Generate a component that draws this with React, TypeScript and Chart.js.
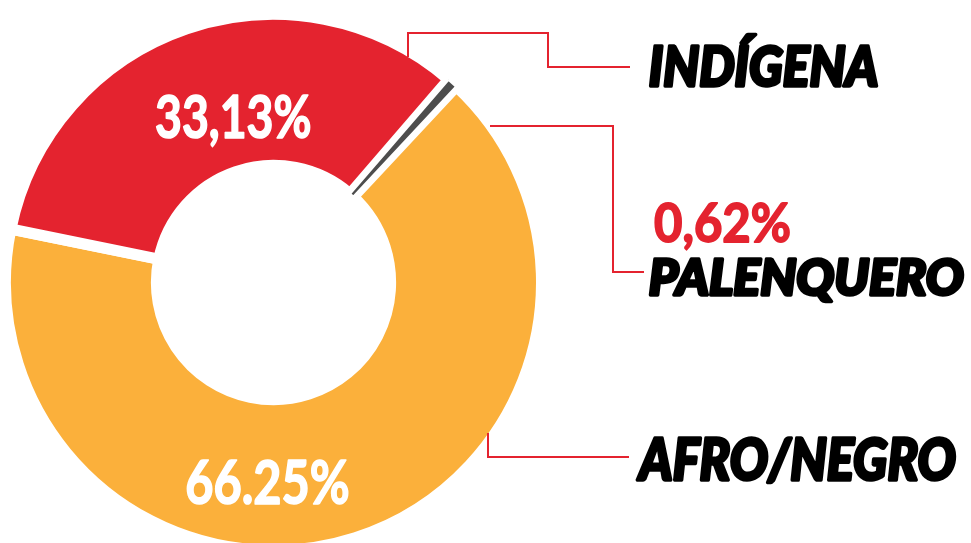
import React, { useEffect, useRef } from "react";
import { Chart, registerables } from "chart.js";

Chart.register(...registerables);

// ---- data (listed clockwise starting from the AFRO/NEGRO slice) ----
const categories = ["AFRO/NEGRO", "INDÍGENA", "PALENQUERO"];
const shares = [66.25, 33.13, 0.62];
const shareLabels = ["66.25%", "33,13%", "0,62%"];
const sliceColors = ["#FBB03B", "#E4232F", "#4D4D4D"];
const accent = "#E4232F";

// ---- annotation layout (decorative leader lines and text boxes) ----
const leaderPaths: number[][][] = [
  [[408, 57], [408, 33], [548, 33], [548, 67], [630, 67]],
  [[490, 126], [613, 126], [613, 272], [644, 272]],
  [[488, 433], [488, 457], [629, 457]],
];

type TextSpec = {
  text: string;
  left: number;
  right: number;
  baseline: number;
  cap: number;
  color: string;
  style: string;
  weight: string;
  bold: number;
};

const textSpecs: TextSpec[] = [
  { text: shareLabels[1], left: 155, right: 311, baseline: 139, cap: 45, color: "#FFFFFF", style: "normal", weight: "700", bold: 1.6 },
  { text: shareLabels[0], left: 186, right: 349, baseline: 505, cap: 46, color: "#FFFFFF", style: "normal", weight: "700", bold: 1.6 },
  { text: shareLabels[2], left: 654, right: 790, baseline: 243, cap: 41, color: accent, style: "normal", weight: "700", bold: 1.8 },
  { text: categories[1], left: 648, right: 879, baseline: 88, cap: 43, color: "#000000", style: "italic", weight: "900", bold: 3.4 },
  { text: categories[2], left: 648, right: 965, baseline: 297, cap: 39, color: "#000000", style: "italic", weight: "900", bold: 3.4 },
  { text: categories[0], left: 635, right: 957, baseline: 482, cap: 45, color: "#000000", style: "italic", weight: "900", bold: 3.4 },
];

const FAMILY = "Lato, 'Noto Sans', 'DejaVu Sans', sans-serif";

function drawFitted(ctx: CanvasRenderingContext2D, s: TextSpec) {
  ctx.save();
  ctx.font = `${s.style} ${s.weight} 100px ${FAMILY}`;
  const hm = ctx.measureText("H");
  const capRatio = hm.actualBoundingBoxAscent / 100;
  const size = (s.cap - s.bold) / capRatio;
  ctx.font = `${s.style} ${s.weight} ${size}px ${FAMILY}`;
  const m = ctx.measureText(s.text);
  const inkW = m.actualBoundingBoxLeft + m.actualBoundingBoxRight;
  const sx = (s.right - s.left - s.bold) / inkW;
  ctx.translate(s.left + s.bold / 2 + m.actualBoundingBoxLeft * sx, s.baseline - s.bold / 2);
  ctx.scale(sx, 1);
  ctx.fillStyle = s.color;
  ctx.strokeStyle = s.color;
  ctx.lineWidth = s.bold;
  ctx.lineJoin = "round";
  ctx.textBaseline = "alphabetic";
  ctx.textAlign = "left";
  ctx.fillText(s.text, 0, 0);
  if (s.bold > 0) ctx.strokeText(s.text, 0, 0);
  ctx.restore();
}

const overlay = {
  id: "overlay",
  afterDraw(chart: Chart) {
    const ctx = chart.ctx;
    ctx.save();
    ctx.strokeStyle = accent;
    ctx.lineWidth = 2;
    ctx.lineJoin = "miter";
    for (const path of leaderPaths) {
      ctx.beginPath();
      path.forEach(([x, y], i) => (i === 0 ? ctx.moveTo(x, y) : ctx.lineTo(x, y)));
      ctx.stroke();
    }
    ctx.restore();
    for (const s of textSpecs) drawFitted(ctx, s);
  },
};

export default function App() {
  const ref = useRef<HTMLCanvasElement | null>(null);

  useEffect(() => {
    if (!ref.current) return;
    const chart = new Chart(ref.current, {
      type: "doughnut",
      data: {
        labels: categories,
        datasets: [
          {
            data: shares,
            backgroundColor: sliceColors,
            borderColor: "#FFFFFF",
            borderAlign: "center",
            borderWidth: [11, 11, 2.5],
            borderJoinStyle: "miter",
          },
        ],
      },
      options: {
        responsive: false,
        animation: false,
        rotation: 43,
        cutout: "43.7%",
        events: [],
        layout: { padding: { left: -2, top: 8, right: 424, bottom: 43 } },
        plugins: {
          legend: { display: false },
          tooltip: { enabled: false },
        },
      },
      plugins: [overlay],
    });
    return () => chart.destroy();
  }, []);

  return (
    <div style={{ position: "fixed", inset: 0, overflow: "hidden", background: "#FFFFFF" }}>
      <canvas ref={ref} width={971} height={600} style={{ position: "absolute", left: 0, top: 0, width: 971, height: 600 }} />
    </div>
  );
}
